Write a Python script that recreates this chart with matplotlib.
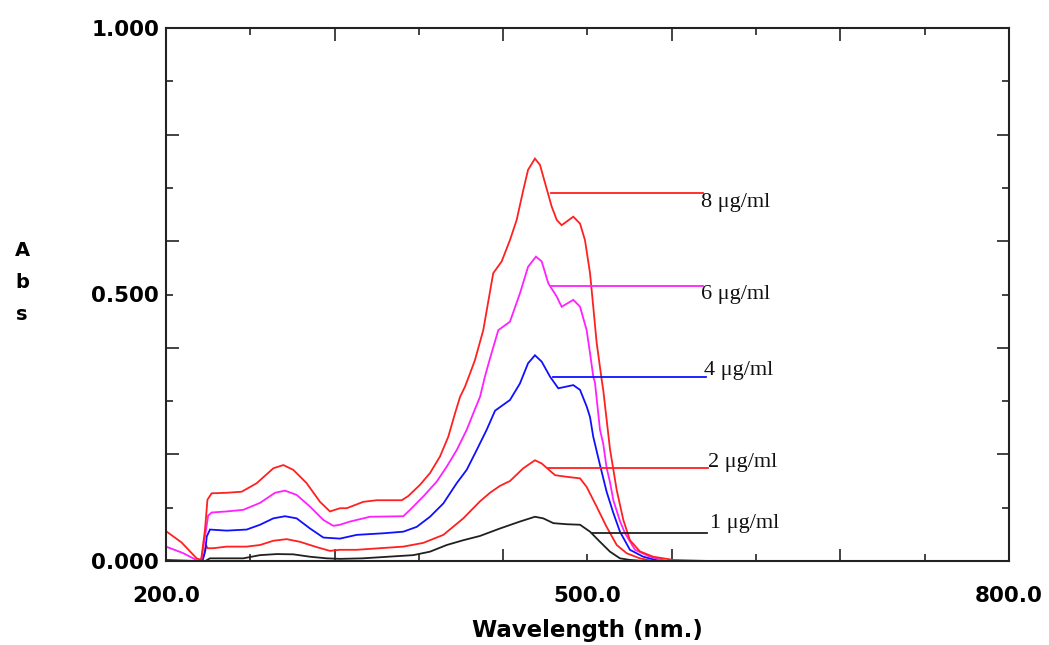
import matplotlib
matplotlib.use("Agg")
import matplotlib.pyplot as plt
from matplotlib.ticker import FixedLocator, FuncFormatter

# ---- data (wavelength nm, absorbance) ----
wl_8 = [200, 211, 221.8, 225, 227.8, 229.5, 232.5, 243.2, 253.9, 264.6, 276.4, 283.5, 290.6, 300.1, 309.6,
        316.7, 323.8, 328.6, 340.4, 349.9, 367.8, 372.5, 380.8, 387.9, 395, 400.9, 405.7, 409.3, 412.8, 416.4,
        419.9, 425.8, 432.9, 438.9, 444.8, 449.6, 454.3, 457.7, 462.6, 466.2, 469.8, 474.5, 478.1, 481.6,
        489.9, 494.7, 498.2, 501.8, 504.1, 506.5, 510.1, 511.2, 516, 520.8, 525.5, 530.2, 537.3, 546.8,
        561.1, 587]
abs_8 = [0.056, 0.035, 0.005, 0.002, 0.06, 0.115, 0.127, 0.128, 0.130, 0.146, 0.174, 0.180, 0.171, 0.146,
         0.111, 0.093, 0.099, 0.099, 0.111, 0.114, 0.114, 0.122, 0.143, 0.165, 0.196, 0.233, 0.277, 0.308,
         0.327, 0.352, 0.377, 0.433, 0.540, 0.562, 0.602, 0.640, 0.696, 0.734, 0.755, 0.743, 0.709, 0.665,
         0.640, 0.630, 0.646, 0.633, 0.602, 0.540, 0.477, 0.410, 0.340, 0.321, 0.210, 0.133, 0.077, 0.039,
         0.018, 0.008, 0.002, 0.0]

wl_6 = [200, 212, 223, 225, 228, 230, 232.5, 243.2, 255, 266.9, 277.6, 284.7, 293, 302.5, 312, 319.1, 323.8,
        330.9, 345.2, 368.9, 373.7, 383.1, 392.7, 399.8, 406.9, 414, 418.7, 423.5, 427, 430.6, 436.5, 444.8,
        451.9, 457.7, 463.3, 467.4, 472.1, 478.1, 481.6, 489.9, 494.7, 499.4, 501.8, 504.1, 505.3, 508.9,
        511.2, 513.6, 516, 518.4, 520.8, 523.1, 526.7, 533.8, 544.5, 556.4]
abs_6 = [0.027, 0.015, 0.0, 0.0, 0.05, 0.085, 0.091, 0.093, 0.096, 0.109, 0.128, 0.132, 0.124, 0.102, 0.077,
         0.066, 0.068, 0.074, 0.083, 0.084, 0.096, 0.121, 0.149, 0.177, 0.208, 0.246, 0.277, 0.308, 0.346,
         0.380, 0.433, 0.449, 0.502, 0.552, 0.571, 0.562, 0.521, 0.496, 0.477, 0.490, 0.477, 0.433, 0.390,
         0.346, 0.335, 0.246, 0.220, 0.175, 0.148, 0.114, 0.094, 0.075, 0.052, 0.021, 0.008, 0.0]

wl_4 = [200, 222, 226, 228, 229, 231.3, 243.2, 257.4, 266.9, 276.4, 284.7, 293, 302.5, 312, 323.8, 335.7,
        354.7, 368.9, 378.4, 387.9, 397.4, 406.9, 414, 421.1, 428.2, 434.2, 440, 444.8, 451.9, 457.7, 462.6,
        467.4, 473.3, 479.2, 489.9, 494.7, 499.4, 501.8, 504.1, 508.9, 513.6, 518.4, 523.1, 530.2, 539.7, 551.6]
abs_4 = [0.002, 0.0, 0.0, 0.02, 0.046, 0.059, 0.057, 0.059, 0.068, 0.080, 0.084, 0.080, 0.061, 0.044, 0.042,
         0.049, 0.052, 0.055, 0.064, 0.083, 0.108, 0.146, 0.171, 0.208, 0.246, 0.282, 0.293, 0.302, 0.333,
         0.371, 0.386, 0.374, 0.346, 0.324, 0.330, 0.321, 0.290, 0.270, 0.233, 0.180, 0.130, 0.090, 0.055,
         0.021, 0.008, 0.0]

wl_2 = [200, 224, 227, 228.5, 229.5, 233.7, 243.2, 257.4, 266.9, 276.4, 285.9, 295.4, 307.3, 316.7, 323.8,
        335.7, 352.3, 368.9, 383.1, 397.4, 411.6, 423.5, 430.6, 437.7, 444.8, 454.3, 462.6, 467.4, 476.9,
        485.2, 494.7, 499.4, 506.5, 513.6, 520.8, 527.9, 537.3, 546.8]
abs_2 = [0.0, 0.0, 0.01, 0.03, 0.024, 0.024, 0.027, 0.027, 0.030, 0.038, 0.041, 0.036, 0.026, 0.019, 0.021,
         0.021, 0.024, 0.027, 0.034, 0.049, 0.080, 0.112, 0.128, 0.141, 0.150, 0.174, 0.189, 0.183, 0.161,
         0.158, 0.155, 0.139, 0.102, 0.064, 0.030, 0.0145, 0.005, 0.0]

wl_1 = [200, 228, 231.3, 255, 266.9, 278.8, 290.6, 302.5, 314.4, 323.8, 340, 376, 387.9, 399.8, 411.6, 423.5,
        437.7, 451.9, 462.6, 468.5, 475.7, 485.2, 494.7, 501.8, 508.9, 516, 523.1, 530.2, 540]
abs_1 = [0.0, 0.0, 0.005, 0.005, 0.011, 0.013, 0.0125, 0.008, 0.005, 0.004, 0.005, 0.011, 0.0175, 0.030,
         0.039, 0.047, 0.061, 0.074, 0.083, 0.080, 0.071, 0.069, 0.068, 0.055, 0.036, 0.0175, 0.005, 0.002, 0.0]

series_x = [wl_1, wl_2, wl_4, wl_6, wl_8]
series_y = [abs_1, abs_2, abs_4, abs_6, abs_8]
series_colors = ['#202020', '#ff2020', '#1010ff', '#ff20ff', '#ff2020']

# annotation labels (top to bottom)
ann_labels = ['8 \u03bcg/ml', '6 \u03bcg/ml', '4 \u03bcg/ml', '2 \u03bcg/ml', '1 \u03bcg/ml']
ann_colors = ['#ff2020', '#ff20ff', '#1010ff', '#ff2020', '#202020']
ann_x0 = [474, 474, 475.7, 472, 503]
ann_x1 = [582, 582, 584, 586, 585]
ann_y = [0.690, 0.516, 0.346, 0.174, 0.053]
ann_tx = [581, 581, 583, 586, 587]
ann_ty = [0.664, 0.492, 0.349, 0.176, 0.062]

x_major = [200, 320, 440, 560, 680, 800]
x_minor = [260, 380, 500, 620, 740]
y_major = [0.0, 0.2, 0.4, 0.6, 0.8, 1.0]
y_minor = [0.1, 0.3, 0.5, 0.7, 0.9]
x_labeled = [200, 500, 800]
y_labeled = [0.0, 0.5, 1.0]

# ---- figure ----
fig = plt.figure(figsize=(10.49, 6.45), dpi=100)
ax = fig.add_axes([166/1049, 1-561/645, (1009-166)/1049, (561-28)/645])

for xs, ys, c in zip(series_x, series_y, series_colors):
    ax.plot(xs, ys, color=c, lw=1.3, solid_joinstyle='miter')

for x0, x1, y, c in zip(ann_x0, ann_x1, ann_y, ann_colors):
    ax.plot([x0, x1], [y, y], color=c, lw=1.3)
for tx, ty, lab in zip(ann_tx, ann_ty, ann_labels):
    ax.text(tx, ty, lab, fontsize=16, family=['Liberation Serif', 'DejaVu Serif'],
            ha='left', va='baseline', color='#111111')

ax.set_xlim(200, 800)
ax.set_ylim(0, 1.0)

ax.xaxis.set_major_locator(FixedLocator(x_major))
ax.xaxis.set_minor_locator(FixedLocator(x_minor))
ax.yaxis.set_major_locator(FixedLocator(y_major))
ax.yaxis.set_minor_locator(FixedLocator(y_minor))

def xfmt(v, pos):
    return f"{v:.1f}" if any(abs(v - l) < 1e-6 for l in x_labeled) else ""

def yfmt(v, pos):
    return f"{v:.3f}" if any(abs(v - l) < 1e-6 for l in y_labeled) else ""

for axis, f in ((ax.xaxis, xfmt), (ax.yaxis, yfmt)):
    axis.set_major_formatter(FuncFormatter(f))
    axis.set_minor_formatter(FuncFormatter(f))

ax.tick_params(which='both', direction='in', top=True, right=True, color='#222222', width=1.2,
               labelsize=15.5, labelcolor='black')
ax.tick_params(which='major', length=9)
ax.tick_params(which='minor', length=4.8)
ax.tick_params(axis='x', which='both', pad=18)
ax.tick_params(axis='y', which='both', pad=5)
for lab in ax.get_xticklabels(which='both') + ax.get_yticklabels(which='both'):
    lab.set_fontweight('bold')

for s in ax.spines.values():
    s.set_linewidth(1.5)
    s.set_color('#222222')

fig.text(587/1049, 1-630/645, 'Wavelength (nm.)', fontsize=16.5, fontweight='bold',
         ha='center', va='center')
for ch, yy in zip(['A', 'b', 's'], [250, 283, 315]):
    fig.text(22/1049, 1-yy/645, ch, fontsize=14, fontweight='bold', ha='center', va='center')

fig.savefig('out.png', dpi=100)
